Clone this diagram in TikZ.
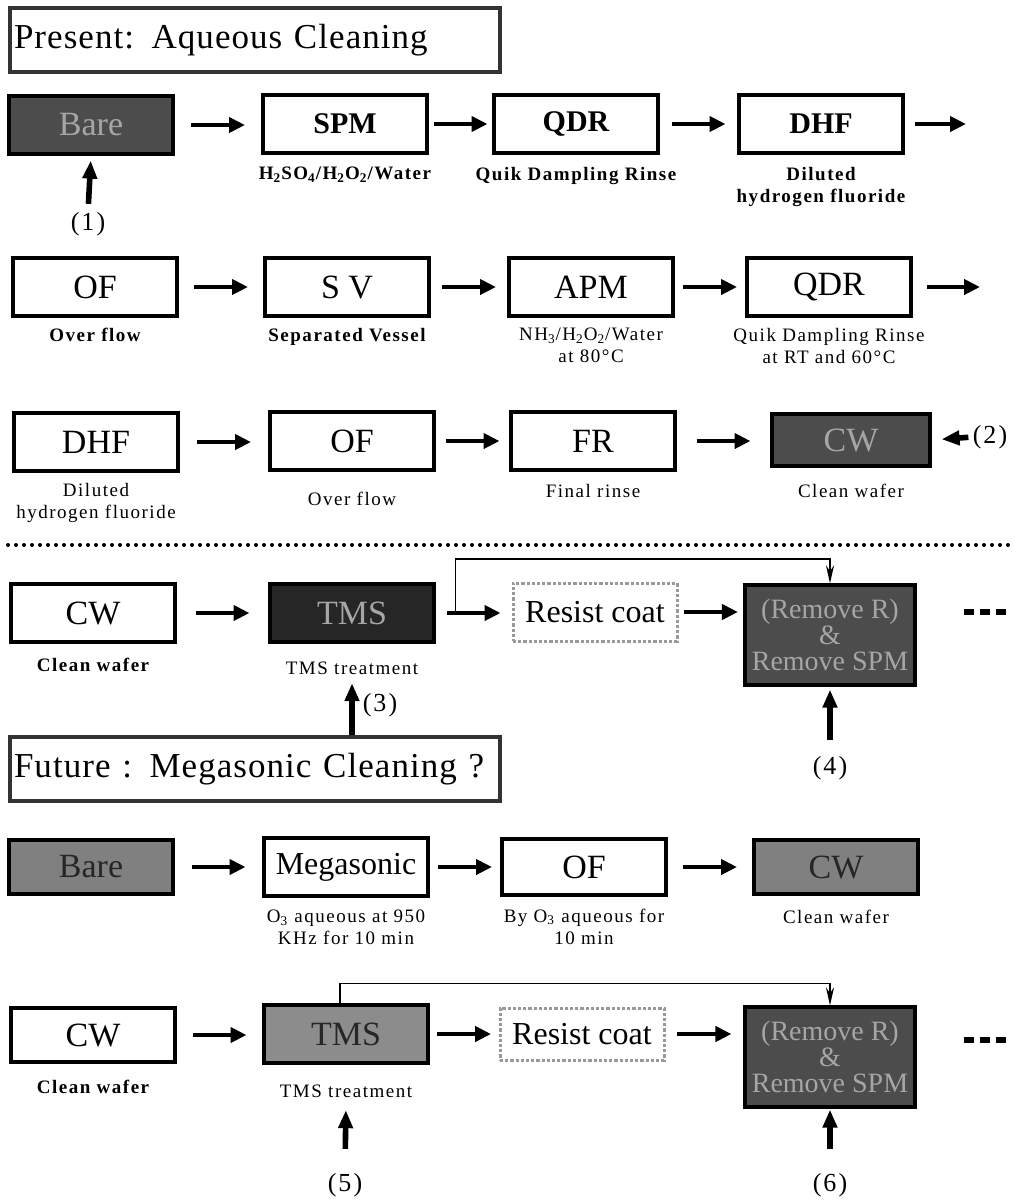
\documentclass[tikz,border=0pt]{standalone}
\usepackage{fontspec}
\setmainfont{Liberation Serif}
\newfontfamily\labfont[LetterSpace=8]{Liberation Serif}
\newfontfamily\headfont[LetterSpace=3]{Liberation Serif}
\usetikzlibrary{positioning,calc,arrows.meta}
\newcommand{\flowarrow}[2]{\draw[flow] ($(#1.east)!0.5!(#2.west|-#1.east)$) ++(-27,0) -- ++(54,0);}

\begin{document}
\begin{tikzpicture}[x=0.5pt,y=-0.5pt,
  stepbox/.style={draw,line width=1.6pt,fill=white,minimum width=82pt,minimum height=29pt,inner sep=0pt,font=\fontsize{17}{18}\selectfont},
  boldbox/.style={stepbox,font=\bfseries\fontsize{15}{16}\selectfont},
  darkbox/.style={stepbox,fill=black!70,text=black!35},
  greybox/.style={stepbox,fill=black!50,text=black!85},
  coatbox/.style={stepbox,draw=black!40,densely dotted,line width=1.5pt,font=\fontsize{16}{17}\selectfont},
  removebox/.style={darkbox,minimum width=85pt,minimum height=50pt,align=center,font=\fontsize{14}{13}\selectfont},
  titlebox/.style={draw=black!80,line width=1.8pt,minimum width=245pt,minimum height=32pt,text width=241pt,align=left,inner xsep=2pt,font=\headfont\fontsize{17.5}{18}\selectfont},
  note/.style={inner sep=0pt,align=center,font=\labfont\fontsize{9.5}{11}\selectfont},
  boldnote/.style={note,font=\labfont\bfseries\fontsize{9.5}{11}\selectfont},
  num/.style={inner sep=0pt,font=\labfont\fontsize{13}{14}\selectfont},
  flow/.style={line width=2.2pt,-{Triangle[length=8pt,width=7.5pt]}},
  feed/.style={line width=2.8pt,-{Triangle[length=9pt,width=7pt]}},
  bypass/.style={line width=0.8pt,-{Stealth[length=9pt,width=4pt]}},
  dashes/.style={line width=3pt,dash pattern=on 5pt off 3pt}]
\useasboundingbox (0,0) rectangle (1014,1200);

\node[titlebox] (present) at (255,40) {Present: Aqueous Cleaning};

\node[darkbox] (bare) at (91,125) {Bare};
\node[boldbox] (spm) at (345,124) {SPM};
\node[boldbox] (qdr) at (576,124) {QDR};
\node[boldbox] (dhf) at (821,124) {DHF};
\coordinate (end1) at (966,124);
\node[boldnote,below=6pt of spm] (spmnote) {H\textsubscript{2}SO\textsubscript{4}/H\textsubscript{2}O\textsubscript{2}/Water};
\node[boldnote,below=6pt of qdr] (qdrnote) {Quik Dampling Rinse};
\node[boldnote,below=6pt of dhf] (dhfnote) {Diluted\\hydrogen fluoride};
\node[num] (n1) at (88,224) {(1)};
\flowarrow{bare}{spm}
\flowarrow{spm}{qdr}
\flowarrow{qdr}{dhf}
\draw[flow] ([xshift=5pt]dhf.east) -- (end1);
\draw[feed,shorten <=4pt,shorten >=2.5pt] (n1.north) -- (bare.south);

\node[stepbox] (of) at (95,287) {OF};
\node[stepbox] (sv) at (347,287) {S V};
\node[stepbox] (apm) at (591,287) {APM};
\node[stepbox] (qdrb) at (829,287) {QDR};
\coordinate (end2) at (980,287);
\node[boldnote,below=5pt of of] (ofnote) {Over flow};
\node[boldnote,below=5pt of sv] (svnote) {Separated Vessel};
\node[note,below=5pt of apm] (apmnote) {NH\textsubscript{3}/H\textsubscript{2}O\textsubscript{2}/Water\\at 80°C};
\node[note,below=5pt of qdrb] (qdrbnote) {Quik Dampling Rinse\\at RT and 60°C};
\flowarrow{of}{sv}
\flowarrow{sv}{apm}
\flowarrow{apm}{qdrb}
\draw[flow] ([xshift=7pt]qdrb.east) -- (end2);

\node[stepbox] (dhfb) at (96,442) {DHF};
\node[stepbox] (ofb) at (352,441) {OF};
\node[stepbox] (fr) at (593,441) {FR};
\node[darkbox,minimum width=79pt,minimum height=26pt] (cw) at (851,440) {CW};
\node[note,below=5pt of dhfb] (dhfbnote) {Diluted\\hydrogen fluoride};
\node[note,below=10pt of ofb] (ofbnote) {Over flow};
\node[note,below=6pt of fr] (frnote) {Final rinse};
\node[note,below=8pt of cw] (cwnote) {Clean wafer};
\node[num] (n2) at (990,437) {(2)};
\flowarrow{dhfb}{ofb}
\flowarrow{ofb}{fr}
\flowarrow{fr}{cw}
\draw[feed,shorten <=2pt,shorten >=5pt] (n2.west) -- (cw.east);

\coordinate (sepl) at (8,545);
\coordinate (sepr) at (1014,545);
\draw[line width=2pt,dash pattern=on 0pt off 4pt,line cap=round] (sepl) -- (sepr);

\node[stepbox] (cwb) at (93,613) {CW};
\node[darkbox,fill=black!85] (tmsa) at (352,613) {TMS};
\node[coatbox] (coata) at (595,612) {Resist coat};
\node[removebox] (rema) at (830,635) {(Remove R)\\\&\\Remove SPM};
\node[boldnote,below=7pt of cwb] (cwbnote) {Clean wafer};
\node[note,below=9pt of tmsa] (tmsanote) {TMS treatment};
\coordinate (tapa) at ([xshift=10pt]tmsa.east);
\coordinate (dasha1) at (964,612);
\coordinate (dasha2) at (1006,612);
\flowarrow{cwb}{tmsa}
\flowarrow{tmsa}{coata}
\flowarrow{coata}{rema}
\draw[bypass] (tapa) -- ++(0,-54) -| (rema.north);
\draw[dashes] (dasha1) -- (dasha2);

\node[titlebox] (future) at (255,769) {Future : Megasonic Cleaning ?};
\node[num] (n3) at (380,705) {(3)};
\node[num] (n4) at (830,768) {(4)};
\draw[feed,shorten >=4pt] (future.north -| tmsanote) -- (tmsanote.south);
\draw[feed,shorten <=8pt,shorten >=1.5pt] (n4.north) -- (rema.south);

\node[greybox,minimum height=27pt] (bareb) at (91,867) {Bare};
\node[stepbox,font=\fontsize{16}{17}\selectfont] (mega) at (346,867) {Megasonic};
\node[stepbox,minimum height=28pt] (ofc) at (584,867) {OF};
\node[greybox,minimum height=27pt] (cwc) at (836,867) {CW};
\node[note,below=6pt of mega] (meganote) {O\textsubscript{3} aqueous at 950\\KHz for 10 min};
\node[note,below=6pt of ofc] (ofcnote) {By O\textsubscript{3} aqueous for\\10 min};
\node[note,below=7pt of cwc] (cwcnote) {Clean wafer};
\flowarrow{bareb}{mega}
\flowarrow{mega}{ofc}
\flowarrow{ofc}{cwc}

\node[stepbox,minimum height=27pt] (cwd) at (93,1035) {CW};
\node[greybox,fill=black!45] (tmsb) at (346,1034) {TMS};
\node[coatbox,minimum height=26pt] (coatb) at (582,1034) {Resist coat};
\node[removebox] (remb) at (830,1057) {(Remove R)\\\&\\Remove SPM};
\node[boldnote,below=8pt of cwd] (cwdnote) {Clean wafer};
\node[note,below=10pt of tmsb] (tmsbnote) {TMS treatment};
\node[num] (n5) at (345,1185) {(5)};
\node[num] (n6) at (830,1185) {(6)};
\coordinate (dashb1) at (964,1040);
\coordinate (dashb2) at (1006,1040);
\flowarrow{cwd}{tmsb}
\flowarrow{tmsb}{coatb}
\flowarrow{coatb}{remb}
\draw[bypass] ([xshift=-3pt]tmsb.north) -- ++(0,-20) -| (remb.north);
\draw[feed,shorten <=12pt,shorten >=6pt] (n5.north) -- (tmsbnote.south);
\draw[feed,shorten <=12pt,shorten >=0.5pt] (n6.north) -- (remb.south);
\draw[dashes] (dashb1) -- (dashb2);
\end{tikzpicture}
\end{document}
